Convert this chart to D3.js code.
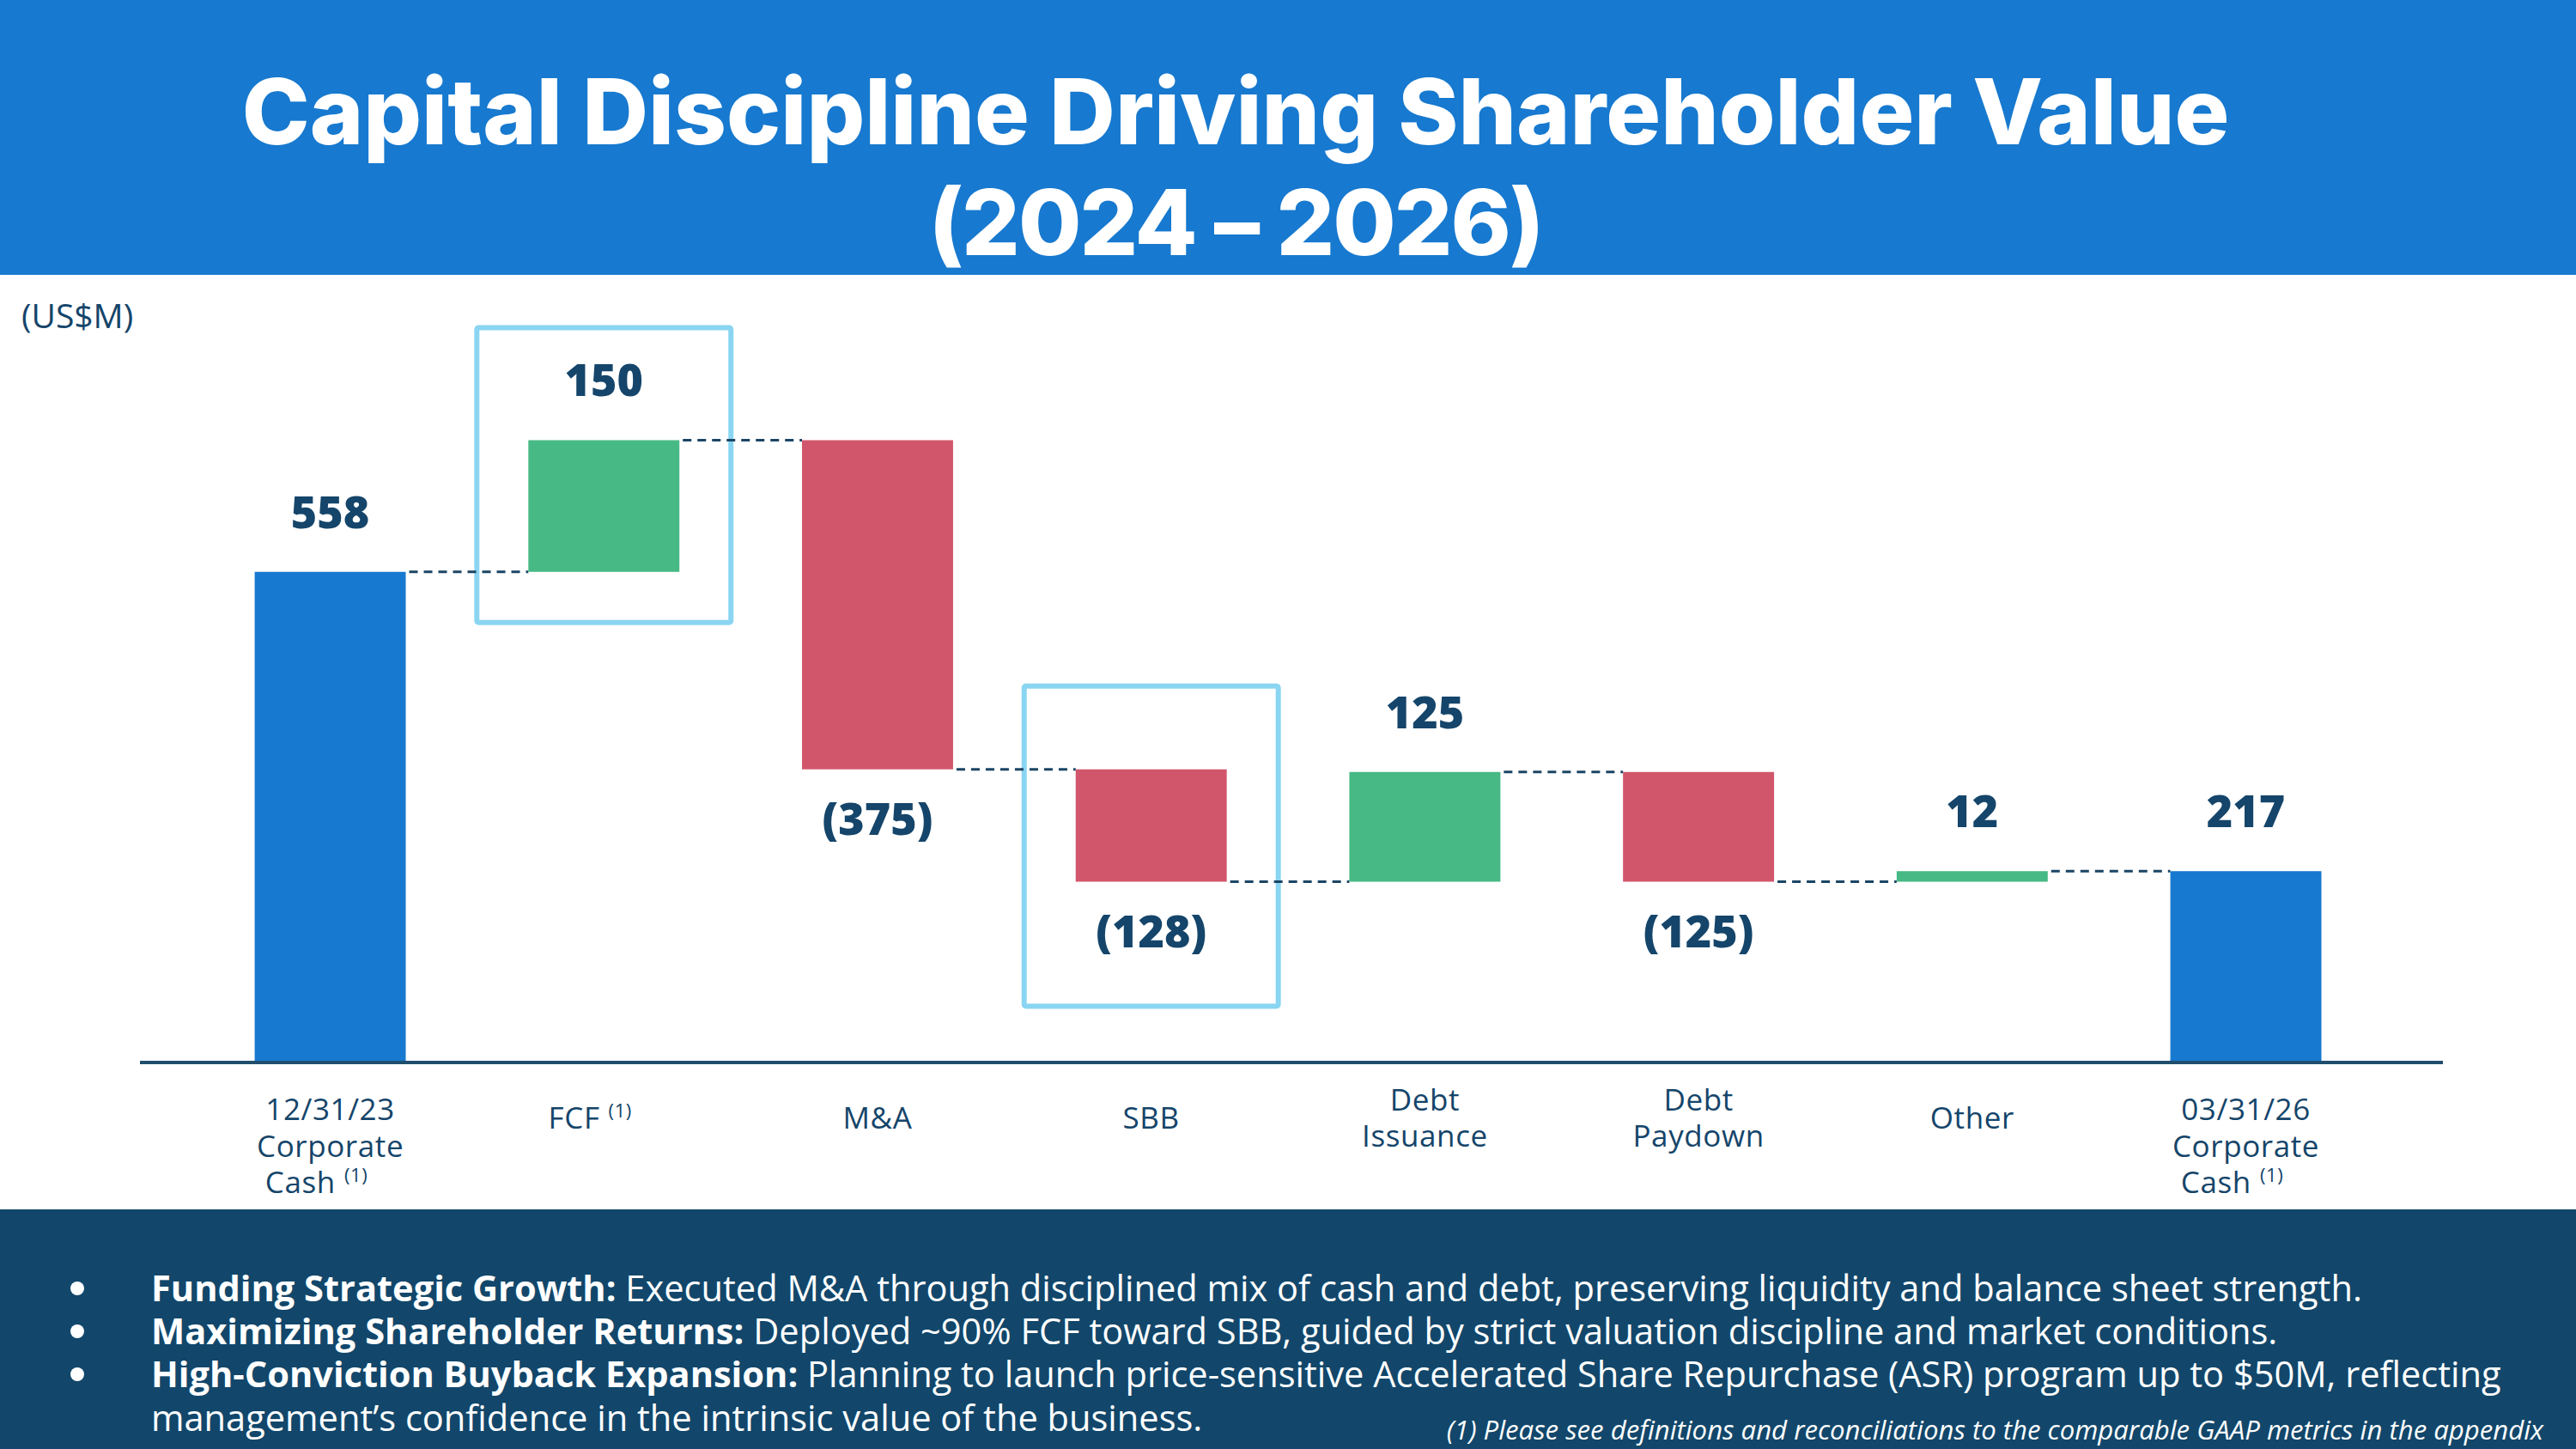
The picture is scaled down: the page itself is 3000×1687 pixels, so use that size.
<!DOCTYPE html>
<html>
<head>
<meta charset="utf-8">
<script src="https://cdn.jsdelivr.net/npm/d3@7"></script>
<style>
  html, body { margin: 0; padding: 0; background: #fff; }
  svg { display: block; }
</style>
</head>
<body>
<div id="chart"></div>
<script>
// chart data
var categories = ["start", "fcf", "ma", "sbb", "issuance", "paydown", "other", "end"];
var tickLines = [
  ["12/31/23", "Corporate", "Cash^"],
  ["FCF^"],
  ["M&A"],
  ["SBB"],
  ["Debt", "Issuance"],
  ["Debt", "Paydown"],
  ["Other"],
  ["03/31/26", "Corporate", "Cash^"]
];
var values = [558, 150, -375, -128, 125, -125, 12, 217];
var isTotal = [true, false, false, false, false, false, false, true];
var labelText = ["558", "150", "(375)", "(128)", "125", "(125)", "12", "217"];
var highlighted = ["fcf", "sbb"];

var titleLines = ["Capital Discipline Driving Shareholder Value", "(2024 \u2013 2026)"];
var bullets = [
  { bold: "Funding Strategic Growth:", text: " Executed M&A through disciplined mix of cash and debt, preserving liquidity and balance sheet strength." },
  { bold: "Maximizing Shareholder Returns:", text: " Deployed ~90% FCF toward SBB, guided by strict valuation discipline and market conditions." },
  { bold: "High-Conviction Buyback Expansion:", text: " Planning to launch price-sensitive Accelerated Share Repurchase (ASR) program up to $50M, reflecting" },
  { bold: "", text: "management\u2019s confidence in the intrinsic value of the business." }
];
var footnote = "(1) Please see definitions and reconciliations to the comparable GAAP metrics in the appendix";

// layout
var W = 3000, H = 1687;
var blue = "#1779CF", green = "#47B985", red = "#D2566B", navy = "#15456A";

var svg = d3.select("#chart").append("svg")
  .attr("width", W)
  .attr("height", H);

// header band
svg.append("rect").attr("x", 0).attr("y", 0).attr("width", W).attr("height", 320).attr("fill", blue);

function fitText(sel, target) {
  var w = sel.node().getComputedTextLength();
  var fs = parseFloat(sel.attr("font-size"));
  sel.attr("font-size", fs * target / w);
}

var t1 = svg.append("text")
  .attr("x", 1439).attr("y", 168)
  .attr("text-anchor", "middle")
  .attr("font-family", "Inter, 'Open Sans', sans-serif")
  .attr("font-weight", 800)
  .attr("font-size", 100)
  .attr("fill", "#fff")
  .text(titleLines[0]);
fitText(t1, 2315);
var t2 = svg.append("text")
  .attr("x", 1439).attr("y", 297)
  .attr("text-anchor", "middle")
  .attr("font-family", "Inter, 'Open Sans', sans-serif")
  .attr("font-weight", 800)
  .attr("font-size", t1.attr("font-size"))
  .attr("fill", "#fff")
  .attr("letter-spacing", -2)
  .text(titleLines[1]);

svg.append("text")
  .attr("x", 25).attr("y", 382)
  .attr("font-family", "'Open Sans', sans-serif")
  .attr("font-size", 39)
  .attr("fill", navy)
  .text("(US$M)");

// scales
var baseY = 1236;
var x = d3.scaleBand()
  .domain(categories)
  .range([296.6, 2703.5])
  .paddingInner(0.448)
  .paddingOuter(0);

var y = d3.scaleLinear()
  .domain([0, 700])
  .range([baseY, baseY - 700 * 1.0219]);

// compute waterfall
var running = 0;
var bars = categories.map(function(c, i) {
  var v = values[i], lo, hi, end;
  if (isTotal[i]) {
    lo = 0; hi = v; end = v;
  } else {
    lo = Math.min(running, running + v);
    hi = Math.max(running, running + v);
    end = running + v;
  }
  running = end;
  return { cat: c, v: v, lo: lo, hi: hi, end: end, total: isTotal[i], label: labelText[i] };
});

var g = svg.append("g");

// highlight boxes (drawn first)
var boxPad = { fcf: { top: 131, bottom: 59 }, sbb: { top: 97, bottom: 145 } };
g.selectAll("rect.hl")
  .data(bars.filter(function(d) { return highlighted.indexOf(d.cat) >= 0; }))
  .enter().append("rect")
  .attr("class", "hl")
  .attr("x", function(d) { return x(d.cat) - 60; })
  .attr("y", function(d) { return y(d.hi) - boxPad[d.cat].top; })
  .attr("width", x.bandwidth() + 120)
  .attr("height", function(d) { return y(d.lo) - y(d.hi) + boxPad[d.cat].top + boxPad[d.cat].bottom; })
  .attr("fill", "none")
  .attr("stroke", "#8AD5F2")
  .attr("stroke-width", 6)
  .attr("rx", 2);

// connectors
g.selectAll("line.conn")
  .data(bars.slice(0, -1))
  .enter().append("line")
  .attr("class", "conn")
  .attr("x1", function(d) { return x(d.cat) + x.bandwidth() + 4; })
  .attr("x2", function(d, i) { return x(categories[i + 1]); })
  .attr("y1", function(d) { return y(d.end); })
  .attr("y2", function(d) { return y(d.end); })
  .attr("stroke", "#1B4565")
  .attr("stroke-width", 3)
  .attr("stroke-dasharray", "10,7");

// bars
g.selectAll("rect.bar")
  .data(bars)
  .enter().append("rect")
  .attr("class", "bar")
  .attr("x", function(d) { return x(d.cat); })
  .attr("y", function(d) { return y(d.hi); })
  .attr("width", x.bandwidth())
  .attr("height", function(d) { return Math.max(1, y(d.lo) - y(d.hi)); })
  .attr("fill", function(d) { return d.total ? blue : (d.v >= 0 ? green : red); });

// value labels
g.selectAll("text.val")
  .data(bars)
  .enter().append("text")
  .attr("class", "val")
  .attr("x", function(d) { return x(d.cat) + x.bandwidth() / 2; })
  .attr("y", function(d) { return d.v >= 0 ? y(d.hi) - 51 : y(d.lo) + 76; })
  .attr("text-anchor", "middle")
  .attr("font-family", "'Open Sans', sans-serif")
  .attr("font-weight", 800)
  .attr("font-size", 52)
  .attr("fill", navy)
  .text(function(d) { return d.label; });

// x axis line
g.append("line")
  .attr("x1", 163).attr("x2", 2845)
  .attr("y1", baseY + 1).attr("y2", baseY + 1)
  .attr("stroke", "#1F4E6E")
  .attr("stroke-width", 4);

// x axis tick labels
var lineStarts = { 1: [1314], 2: [1293, 1335], 3: [1304, 1347, 1389] };
var ticks = g.selectAll("text.tick")
  .data(categories)
  .enter().append("text")
  .attr("class", "tick")
  .attr("text-anchor", "middle")
  .attr("font-family", "'Open Sans', sans-serif")
  .attr("font-size", 35)
  .attr("letter-spacing", 0.6)
  .attr("fill", navy);
ticks.each(function(c, i) {
  var el = d3.select(this);
  var lines = tickLines[i];
  var cx = x(c) + x.bandwidth() / 2;
  lines.forEach(function(ln, j) {
    var sup = ln.indexOf("^") >= 0;
    var txt = ln.replace("^", "");
    el.append("tspan")
      .attr("x", cx + (sup ? -16 : 0))
      .attr("y", lineStarts[lines.length][j])
      .text(txt);
    if (sup) {
      el.append("tspan")
        .attr("font-size", 22)
        .attr("dx", 10)
        .attr("dy", -13)
        .text("(1)");
    }
  });
});

// bottom panel
var panelY = 1408;
svg.append("rect").attr("x", 0).attr("y", panelY).attr("width", W).attr("height", H - panelY).attr("fill", "#12476B");

var bulletY = [1515, 1565, 1615, 1666];
var bl = svg.append("g")
  .attr("font-family", "'Open Sans', sans-serif")
  .attr("fill", "#fff");
var rows = bl.selectAll("text.b")
  .data(bullets)
  .enter().append("text")
  .attr("class", "b")
  .attr("x", 176)
  .attr("y", function(d, i) { return bulletY[i]; })
  .attr("font-size", 38);
rows.append("tspan").attr("font-weight", 700).text(function(d) { return d.bold; });
rows.append("tspan").text(function(d) { return d.text; });

// scale bullet text to the reference width
var w0 = rows.nodes()[0].getComputedTextLength();
var bfs = 38 * 2575 / w0;
rows.attr("font-size", bfs);

bl.selectAll("circle.dot")
  .data(bullets.filter(function(d) { return d.bold; }))
  .enter().append("circle")
  .attr("cx", 90)
  .attr("cy", function(d, i) { return bulletY[i] - bfs * 0.36; })
  .attr("r", 8)
  .attr("fill", "#fff");

var fn = svg.append("text")
  .attr("x", 2962).attr("y", 1676)
  .attr("text-anchor", "end")
  .attr("font-family", "'Open Sans', sans-serif")
  .attr("font-style", "italic")
  .attr("font-size", 26)
  .attr("fill", "#fff")
  .text(footnote);
fitText(fn, 1278);
</script>
</body>
</html>
